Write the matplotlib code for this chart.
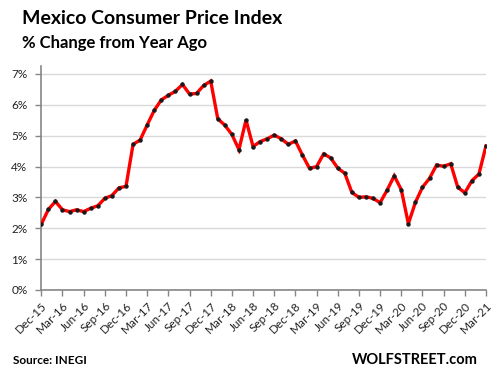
import matplotlib
matplotlib.use("Agg")
import matplotlib.pyplot as plt
import numpy as np

months = ["Dec-15", "Jan-16", "Feb-16", "Mar-16", "Apr-16", "May-16", "Jun-16", "Jul-16", "Aug-16",
          "Sep-16", "Oct-16", "Nov-16", "Dec-16", "Jan-17", "Feb-17", "Mar-17", "Apr-17", "May-17",
          "Jun-17", "Jul-17", "Aug-17", "Sep-17", "Oct-17", "Nov-17", "Dec-17", "Jan-18", "Feb-18",
          "Mar-18", "Apr-18", "May-18", "Jun-18", "Jul-18", "Aug-18", "Sep-18", "Oct-18", "Nov-18",
          "Dec-18", "Jan-19", "Feb-19", "Mar-19", "Apr-19", "May-19", "Jun-19", "Jul-19", "Aug-19",
          "Sep-19", "Oct-19", "Nov-19", "Dec-19", "Jan-20", "Feb-20", "Mar-20", "Apr-20", "May-20",
          "Jun-20", "Jul-20", "Aug-20", "Sep-20", "Oct-20", "Nov-20", "Dec-20", "Jan-21", "Feb-21",
          "Mar-21"]
cpi_yoy = [2.13, 2.61, 2.87, 2.60, 2.54, 2.60, 2.54, 2.65, 2.73, 2.97, 3.06, 3.31, 3.36,
           4.72, 4.86, 5.35, 5.82, 6.16, 6.31, 6.44, 6.66, 6.35, 6.37, 6.63, 6.77,
           5.55, 5.34, 5.04, 4.55, 5.51, 4.65, 4.81, 4.90, 5.02, 4.90, 4.72, 4.83,
           4.37, 3.94, 4.00, 4.41, 4.28, 3.95, 3.78, 3.16, 3.00, 3.02, 2.97, 2.83,
           3.24, 3.70, 3.25, 2.15, 2.84, 3.33, 3.62, 4.05, 4.01, 4.09, 3.33, 3.15,
           3.54, 3.76, 4.67]
y_ticks = [0, 1, 2, 3, 4, 5, 6, 7]
y_tick_labels = ["0%", "1%", "2%", "3%", "4%", "5%", "6%", "7%"]

plt.rcParams['font.family'] = ['Lato', 'DejaVu Sans']

W, H = 496, 378
fig = plt.figure(figsize=(W / 100, H / 100), dpi=100)
left, right, bottom, top = 41.3, 486, 290, 66
ax = fig.add_axes([left / W, 1 - bottom / H, (right - left) / W, (bottom - top) / H])

x = np.arange(len(months))
ax.plot(x, cpi_yoy, color="#ff0000", lw=2.4, solid_joinstyle="miter", zorder=3)
ax.plot(x, cpi_yoy, ls="none", marker="o", ms=2.2, color="#1a1a1a", zorder=4)

ax.set_xlim(0, len(months) - 1)
ax.set_ylim(0, 7 * (bottom - top) / (bottom - 74))
ax.set_yticks(y_ticks)
ax.set_yticklabels(y_tick_labels, fontsize=8.5, color="#222222")
ax.set_xticks(x[::3])
ax.set_xticklabels(months[::3], rotation=45, ha="right", va="top", rotation_mode="anchor",
                   fontsize=8.5, color="#222222")
ax.yaxis.grid(True, color="#d9d9d9", lw=1)
ax.set_axisbelow(True)
for s in ["top", "right"]:
    ax.spines[s].set_visible(False)
for s in ["left", "bottom"]:
    ax.spines[s].set_color("#868686")
    ax.spines[s].set_linewidth(1.2)
ax.tick_params(axis="both", direction="out", length=4, width=1, color="#868686", pad=3)
ax.tick_params(axis="y", pad=6)

fig.text(22 / W, 1 - 18 / H, "Mexico Consumer Price Index", fontsize=14, fontweight="bold",
         ha="left", va="center", color="#000000")
fig.text(22 / W, 1 - 43 / H, "% Change from Year Ago", fontsize=12, fontweight="bold",
         ha="left", va="center", color="#000000")
fig.text(13 / W, 1 - 361 / H, "Source: INEGI", fontsize=8.5, fontweight="bold",
         ha="left", va="center", color="#000000")
fig.text(478 / W, 1 - 360 / H, "WOLFSTREET.com", fontsize=10.5, fontweight="bold",
         ha="right", va="center", color="#000000")

fig.savefig("out.png", dpi=100)
